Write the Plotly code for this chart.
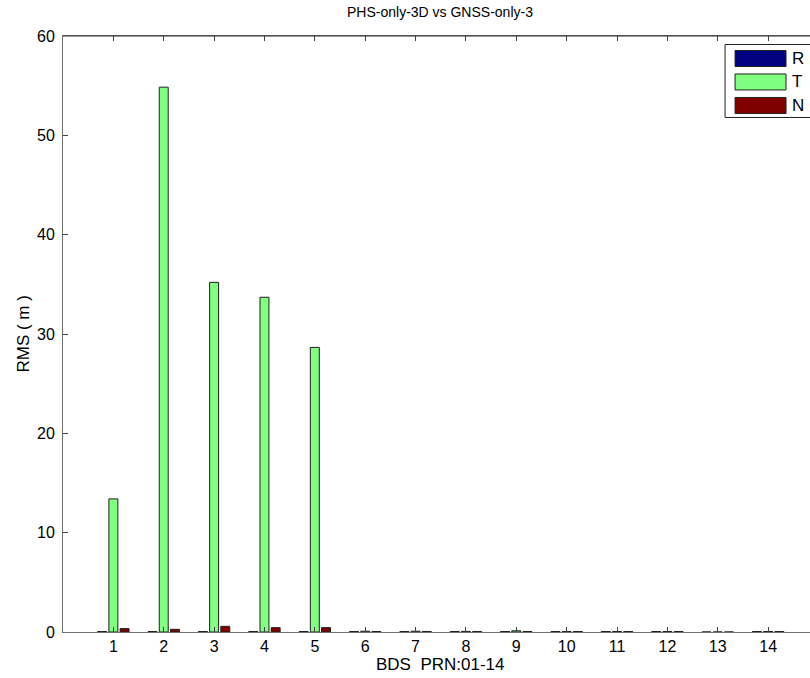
import plotly.graph_objects as go

prn = list(range(1, 15))
series_names = ["R", "T", "N"]
series_colors = ["#000080", "#80ff80", "#800000"]
r_vals = [0.05, 0.05, 0.05, 0.05, 0.05, 0.05, 0.05, 0.05, 0.05, 0.05, 0.05, 0.05, 0.0, 0.05]
t_vals = [13.4, 54.85, 35.2, 33.7, 28.65, 0.08, 0.08, 0.06, 0.12, 0.05, 0.05, 0.05, 0.0, 0.05]
n_vals = [0.34, 0.27, 0.57, 0.44, 0.44, 0.05, 0.05, 0.05, 0.05, 0.05, 0.05, 0.05, 0.0, 0.05]
y_ticks = [0, 10, 20, 30, 40, 50, 60]

FONT = "Liberation Sans, Arial, sans-serif"
W, H = 810, 678
ML, MT, MB = 62.5, 35.5, 46.3

fig = go.Figure()
for name, col, vals in zip(series_names, series_colors, [r_vals, t_vals, n_vals]):
    fig.add_trace(go.Bar(x=prn, y=vals, name=name, marker=dict(color=col, line=dict(color="#202020", width=1)),
                         showlegend=False))

plot_w = W - ML
x_right = (W - ML) / 50.4

fig.update_layout(
    width=W, height=H,
    margin=dict(l=ML, r=0, t=MT, b=MB, pad=0),
    paper_bgcolor="white", plot_bgcolor="white",
    barmode="group", bargap=0.333, bargroupgap=0.2,
    font=dict(family=FONT, size=16, color="black"),
    xaxis=dict(range=[0, x_right], tickvals=prn, ticktext=[str(p) for p in prn],
               ticks="inside", ticklen=5, tickcolor="#404040", mirror="ticks",
               showline=True, linecolor="#707070", linewidth=1, showgrid=False, zeroline=False,
               tickfont=dict(size=16, family=FONT)),
    yaxis=dict(range=[0, 60], tickvals=y_ticks, ticks="inside", ticklen=5, tickcolor="#404040",
               showline=True, linecolor="#707070", linewidth=1, showgrid=False, zeroline=False,
               tickfont=dict(size=16, family=FONT), ticklabelstandoff=4),
)

# top border line
fig.add_shape(type="line", xref="paper", yref="paper", x0=0, x1=1.02, y0=1, y1=1,
              line=dict(color="#303030", width=1))

# title and axis titles
cx = (440 - ML) / plot_w
fig.add_annotation(text="PHS-only-3D vs GNSS-only-3", xref="paper", yref="paper", x=cx, y=1,
                   xanchor="center", yanchor="bottom", yshift=14, showarrow=False,
                   font=dict(size=14, family=FONT))
fig.add_annotation(text="BDS  PRN:01-14", xref="paper", yref="paper", x=cx, y=0, yshift=-21,
                   xanchor="center", yanchor="top", showarrow=False, font=dict(size=17, family=FONT))
fig.add_annotation(text="RMS ( m )", xref="paper", yref="paper", x=-(ML - 22) / plot_w, y=0.5,
                   xanchor="center", yanchor="middle", showarrow=False, textangle=-90,
                   font=dict(size=17, family=FONT))

# legend box (MATLAB style)
def px_x(p):
    return (p - ML) / plot_w

def px_y(p):
    return 1 - (p - MT) / (H - MT - MB)

fig.add_shape(type="rect", xref="paper", yref="paper", x0=px_x(725), x1=px_x(830),
              y0=px_y(117), y1=px_y(44), line=dict(color="#202020", width=1), fillcolor="white")
for i, (name, col) in enumerate(zip(series_names, series_colors)):
    top = 50 + i * 23.5
    fig.add_shape(type="rect", xref="paper", yref="paper", x0=px_x(735), x1=px_x(786),
                  y0=px_y(top + 16), y1=px_y(top), line=dict(color="#202020", width=1), fillcolor=col)
    fig.add_annotation(text=name, xref="paper", yref="paper", x=px_x(790), y=px_y(top + 8),
                       xanchor="left", yanchor="middle", showarrow=False, font=dict(size=17, family=FONT))

fig.write_html("out.html")
